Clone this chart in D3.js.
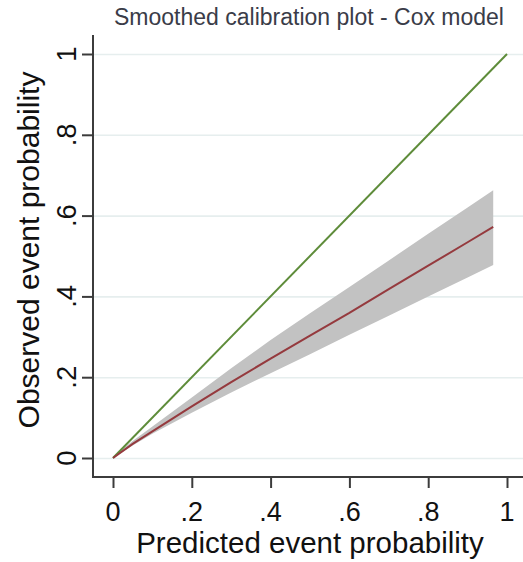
<!DOCTYPE html>
<html>
<head>
<meta charset="utf-8">
<script src="https://cdn.jsdelivr.net/npm/d3@7"></script>
<style>
  html, body { margin: 0; padding: 0; background: #fff; }
  svg { display: block; font-family: "Liberation Sans", Arial, sans-serif; }
</style>
</head>
<body>
<svg id="chart" width="523" height="562"></svg>
<script>
// Predicted probabilities at which the smoothed curve was evaluated
const predicted = [0, 0.05, 0.1, 0.2, 0.3, 0.4, 0.5, 0.6, 0.7, 0.8, 0.9, 0.965];
// Smoothed observed event probability and its confidence limits
const observed  = [0, 0.035, 0.066, 0.128, 0.188, 0.246, 0.303, 0.359, 0.418, 0.476, 0.534, 0.572];
const upperCI   = [0.004, 0.042, 0.078, 0.15, 0.222, 0.292, 0.358, 0.423, 0.489, 0.555, 0.62, 0.663];
const lowerCI   = [0, 0.031, 0.06, 0.112, 0.162, 0.21, 0.257, 0.305, 0.352, 0.4, 0.447, 0.478];
// Reference line of perfect calibration
const diagonal  = [0, 1];
const tickValues = [0, 0.2, 0.4, 0.6, 0.8, 1];

const svg = d3.select("#chart");
const x = d3.scaleLinear().domain([0, 1]).range([113, 507]);
const y = d3.scaleLinear().domain([0, 1]).range([458, 54]);
const fmt = d => d === 0 ? "0" : d === 1 ? "1" : String(d).replace(/^0/, "");

// Horizontal grid lines
svg.append("g")
  .attr("transform", "translate(93,0)")
  .call(d3.axisRight(y).tickValues(tickValues).tickSize(430).tickFormat(""))
  .call(g => g.select(".domain").remove())
  .call(g => g.selectAll("line").attr("stroke", "#e6eeee").attr("stroke-width", 1.6));

// Confidence band
const band = predicted.map((p, i) => ({ p, lo: lowerCI[i], hi: upperCI[i] }));
svg.append("path")
  .datum(band)
  .attr("fill", "#c2c2c2")
  .attr("d", d3.area().x(d => x(d.p)).y0(d => y(d.lo)).y1(d => y(d.hi)));

// Diagonal reference line
svg.append("path")
  .datum(diagonal)
  .attr("fill", "none")
  .attr("stroke", "#5e8c3a")
  .attr("stroke-width", 2)
  .attr("d", d3.line().x(d => x(d)).y(d => y(d)));

// Smoothed calibration curve
svg.append("path")
  .datum(predicted.map((p, i) => [p, observed[i]]))
  .attr("fill", "none")
  .attr("stroke", "#953a3e")
  .attr("stroke-width", 2)
  .attr("d", d3.line().x(d => x(d[0])).y(d => y(d[1])));

// Axis lines
const axisColor = "#3c3c3c";
svg.append("line").attr("x1", 93).attr("x2", 93).attr("y1", 35).attr("y2", 478)
  .attr("stroke", axisColor).attr("stroke-width", 2);
svg.append("line").attr("x1", 92).attr("x2", 523).attr("y1", 477).attr("y2", 477)
  .attr("stroke", axisColor).attr("stroke-width", 2);

// Y axis ticks
svg.append("g")
  .attr("transform", "translate(93,0)")
  .call(d3.axisLeft(y).tickValues(tickValues).tickSize(11).tickFormat(""))
  .call(g => g.select(".domain").remove())
  .call(g => g.selectAll("line").attr("stroke", axisColor).attr("stroke-width", 2));

// X axis ticks
svg.append("g")
  .attr("transform", "translate(0,477)")
  .call(d3.axisBottom(x).tickValues(tickValues).tickSize(11).tickFormat(""))
  .call(g => g.select(".domain").remove())
  .call(g => g.selectAll("line").attr("stroke", axisColor).attr("stroke-width", 2));

// Y tick labels (rotated)
svg.append("g").selectAll("text")
  .data(tickValues).join("text")
  .attr("transform", d => `translate(76,${y(d)}) rotate(-90)`)
  .attr("text-anchor", "middle")
  .attr("font-size", 27.5)
  .attr("fill", "#111")
  .text(fmt);

// X tick labels
svg.append("g").selectAll("text")
  .data(tickValues).join("text")
  .attr("x", d => x(d))
  .attr("y", 521)
  .attr("text-anchor", "middle")
  .attr("font-size", 27)
  .attr("fill", "#111")
  .text(fmt);

// Axis titles
svg.append("text")
  .attr("x", 310).attr("y", 553)
  .attr("text-anchor", "middle")
  .attr("font-size", 29.5)
  .attr("fill", "#111")
  .text("Predicted event probability");

svg.append("text")
  .attr("transform", "translate(39,250) rotate(-90)")
  .attr("text-anchor", "middle")
  .attr("font-size", 30)
  .attr("fill", "#111")
  .text("Observed event probability");

// Chart title
svg.append("text")
  .attr("x", 309).attr("y", 25)
  .attr("text-anchor", "middle")
  .attr("font-size", 23)
  .attr("fill", "#3a3c48")
  .text("Smoothed calibration plot - Cox model");
</script>
</body>
</html>
